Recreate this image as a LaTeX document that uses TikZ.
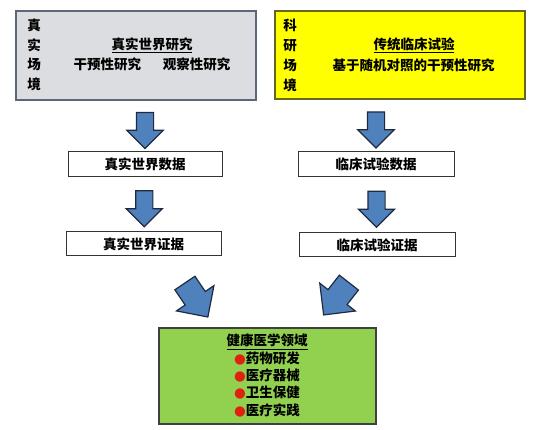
\documentclass[tikz,border=0pt]{standalone}
\usepackage{fontspec}
\setmainfont{Noto Sans CJK SC}
\newfontfamily\symfont{DejaVu Sans}
\usetikzlibrary{arrows.meta, positioning, calc, shapes.arrows}

\definecolor{scenegray}{HTML}{DCDDE0}
\definecolor{sceneborder}{HTML}{5B6878}
\definecolor{trialyellow}{HTML}{FFFF00}
\definecolor{trialborder}{HTML}{66661F}
\definecolor{healthgreen}{HTML}{92D050}
\definecolor{arrowblue}{HTML}{4F81BD}
\definecolor{arrowedge}{HTML}{1F2A40}
\definecolor{bulletred}{HTML}{E02010}

\newcommand{\redbullet}{{\symfont\color{bulletred}\char"25CF}}

\begin{document}
\begin{tikzpicture}[
    x=1pt, y=-1pt,
    every node/.style={font=\fontsize{13.5}{17.3}\selectfont\bfseries},
    scene/.style={draw, rectangle, line width=1.5pt, inner sep=0pt},
    block/.style={draw=black!80, rectangle, line width=1pt, fill=white, inner sep=0pt},
    downarrow/.style={single arrow, draw=arrowedge, line width=1.2pt, fill=arrowblue,
        minimum height=36pt, single arrow head extend=9.5pt,
        single arrow head indent=0pt, inner xsep=0pt, inner ysep=8pt, rotate=-90},
    bigarrow/.style={downarrow, minimum height=41pt, inner ysep=11.5pt,
        single arrow head extend=10.5pt}
    ]
    \useasboundingbox (0,0) rectangle (542,430);

    % top boxes
    \node[scene, fill=scenegray, draw=sceneborder, minimum width=240pt, minimum height=89pt] (rw) at (136,55.5) {};
    \node[scene, fill=trialyellow, draw=trialborder, minimum width=250pt, minimum height=88pt] (ct) at (400,55) {};

    \node[align=center, font=\fontsize{13.5}{19.5}\selectfont\bfseries] (rwside) at (34,55) {真\\实\\场\\境};
    \node (rwtitle) at (152,45) {\underline{真实世界研究}};
    \node (rwtypes) at (152,64) {干预性研究\hspace{1.6em}观察性研究};

    \node[align=center, font=\fontsize{13.5}{20}\selectfont\bfseries] (ctside) at (290,55) {科\\研\\场\\境};
    \node (cttitle) at (414,45) {\underline{传统临床试验}};
    \node (cttypes) at (413.5,65) {基于随机对照的干预性研究};

    % data and evidence
    \node[block, minimum width=154pt, minimum height=25pt] (rwd) at (145,164.5) {真实世界数据};
    \node[block, minimum width=155pt, minimum height=24pt] (rwe) at (143.5,244) {真实世界证据};
    \node[block, minimum width=156pt, minimum height=25pt] (ctd) at (376,164.5) {临床试验数据};
    \node[block, minimum width=156pt, minimum height=24pt] (cte) at (377,245) {临床试验证据};

    % health field
    \node[scene, fill=healthgreen, draw=black!75, line width=1.2pt, minimum width=217pt, minimum height=96pt] (med) at (267.5,376) {};
    \node[align=center] (medtext) at (267,375.5) {\underline{健康医学领域}\\
        \redbullet 药物研发\\ \redbullet 医疗器械\\ \redbullet 卫生保健\\ \redbullet 医疗实践};

    % arrows
    \node[downarrow] (a1) at ($(rwd.north)!0.5!(rwd.north |- rw.south)$) {};
    \node[downarrow] (a2) at ($(rwd.south)!0.5!(rwe.north)$) {};
    \node[downarrow] (a3) at ($(ctd.north)!0.5!(ctd.north |- ct.south)$) {};
    \node[downarrow] (a4) at ($(ctd.south)!0.5!(cte.north)$) {};
    \node[bigarrow, rotate=34] (a5) at (193,295) {};
    \node[bigarrow, rotate=-38] (a6) at (340,294) {};
\end{tikzpicture}
\end{document}
